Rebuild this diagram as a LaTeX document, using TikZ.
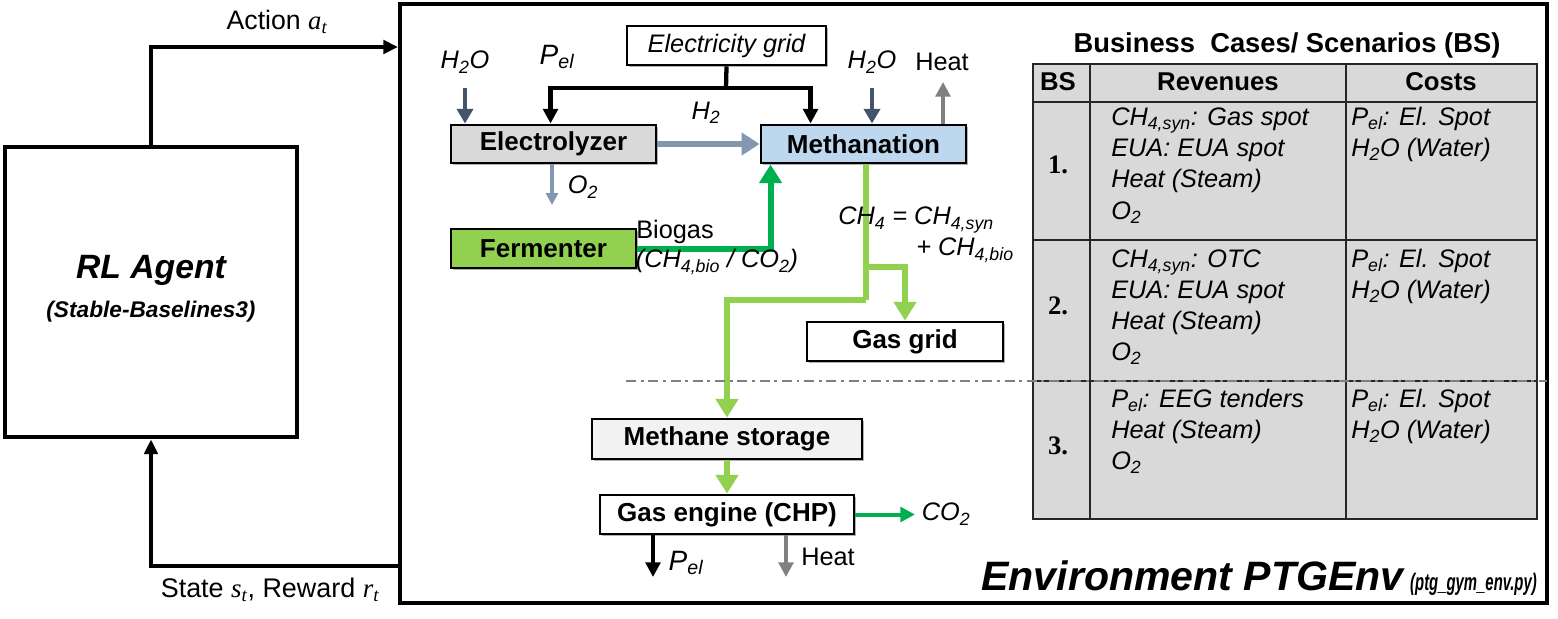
\documentclass[tikz,border=0pt]{standalone}
\usepackage{fontspec}
\setmainfont{Liberation Sans}
\newfontfamily\seriff{Liberation Serif}
\usetikzlibrary{arrows.meta,calc,shadows}
\definecolor{lgreen}{HTML}{92D050}
\definecolor{dgreen}{HTML}{00B050}
\definecolor{gblue}{HTML}{8497B0}
\definecolor{slate}{HTML}{44546A}
\definecolor{hgray}{HTML}{808080}
\definecolor{elfill}{HTML}{D9D9D9}
\definecolor{mefill}{HTML}{BDD7EE}
\definecolor{stfill}{HTML}{F2F2F2}
\newcommand{\fsz}[1]{\fontsize{#1}{#1}\selectfont}
\newcommand{\sbs}[1]{\textsubscript{#1}}
\newcommand{\tvar}[1]{{\seriff\itshape #1}}
\begin{document}
\begin{tikzpicture}[x=0.75pt,y=-0.75pt,
  procbox/.style={draw, fill=white, line width=2.2pt, minimum height=28.5pt, inner sep=0pt,
    font=\bfseries\fsz{19.5},
    drop shadow={shadow xshift=1.5pt, shadow yshift=-1.5pt, opacity=0.3, fill=black}},
  lbl/.style={inner sep=0pt, font=\fsz{19}},
  ilbl/.style={inner sep=0pt, font=\itshape\fsz{19}},
  tbtxt/.style={inner sep=0pt, anchor=base west, font=\itshape\fsz{19}},
  tbhead/.style={inner sep=0pt, font=\bfseries\fsz{19.3}},
  tbnum/.style={inner sep=0pt, font=\seriff\bfseries\fsz{20}},
  ctrl/.style={line width=3.6pt, -{Triangle[length=11pt,width=10pt]}},
  feed/.style={line width=3.2pt, -{Triangle[length=11pt,width=11pt]}},
  feedline/.style={line width=3.2pt},
  water/.style={slate, line width=3.6pt, -{Triangle[length=11pt,width=12pt]}},
  heatarr/.style={hgray, line width=3pt, -{Triangle[length=11pt,width=11pt]}},
  h2arr/.style={gblue, line width=4.5pt, -{Triangle[length=13.5pt,width=16.5pt]}},
  o2arr/.style={gblue, line width=2.4pt, -{Triangle[length=9pt,width=9pt]}},
  bioarr/.style={dgreen, line width=4.5pt, -{Triangle[length=14pt,width=16.5pt]}},
  co2arr/.style={dgreen, line width=3pt, -{Triangle[length=11pt,width=11pt]}},
  ch4line/.style={lgreen, line width=4.5pt},
  ch4arr/.style={lgreen, line width=4.5pt, -{Triangle[length=14pt,width=16.5pt]}},
  outarr/.style={line width=3pt, -{Triangle[length=11pt,width=11pt]}},
  tbl/.style={black!85, line width=1pt},
  dashdot/.style={hgray, line width=2.2pt, dash pattern=on 7.5pt off 3.5pt on 2.2pt off 3.5pt}
]
\useasboundingbox (0,0) rectangle (1558,618);

% ---------- agent and environment ----------
\node[draw, line width=3.6pt, minimum width=219pt, minimum height=217.5pt, inner sep=0pt] (agent) at (151,292) {};
\node[inner sep=0pt, font=\bfseries\itshape\fsz{25.3}] (agt) at (151,270) {RL Agent};
\node[inner sep=0pt, font=\bfseries\itshape\fsz{17}] (agsub) at (151,312) {(Stable-Baselines3)};

\node[draw, line width=3pt, minimum width=860.25pt, minimum height=449.25pt, inner sep=0pt] (env) at (973.5,303.5) {};
\node[inner sep=0pt, anchor=base east] (envlbl) at (1537,590)
  {{\bfseries\itshape\fsz{30.8}Environment PTGEnv}\hspace{5pt}\scalebox{0.62}[1]{\bfseries\itshape\fsz{18}(ptg\_gym\_env.py)}};

\coordinate (actin) at (398,47);
\draw[ctrl] (agent.north) |- (actin);
\node[lbl, font=\fsz{20}] (actlbl) at (277,22) {Action \tvar{a}\sbs{\tvar{t}}};
\coordinate (stout) at (400,566);
\draw[ctrl] (stout) -| (agent.south);
\node[lbl, font=\fsz{20.2}] (stlbl) at (270,590) {State \tvar{s}\sbs{\tvar{t}}, Reward \tvar{r}\sbs{\tvar{t}}};

% ---------- table ----------
\fill[elfill] (1033,64) rectangle (1537,519);
\draw[tbl] (1033,64) rectangle (1537,519);
\draw[tbl] (1033,102) -- (1537,102);
\draw[tbl] (1033,240) -- (1537,240);
\draw[tbl] (1033,381) -- (1537,381);
\draw[tbl] (1090,64) -- (1090,519);
\draw[tbl] (1346,64) -- (1346,519);
\node[inner sep=0pt, font=\bfseries\fsz{20.5}] (ttl) at (1287,45) {Business\ \ Cases/\ Scenarios\ (BS)};
\node[tbhead] (hbs) at (1058,82) {BS};
\node[tbhead] (hrev) at (1218,82) {Revenues};
\node[tbhead] (hcost) at (1441,82) {Costs};
\node[tbnum] (n1) at (1058,165) {1.};
\node[tbnum] (n2) at (1058,306) {2.};
\node[tbnum] (n3) at (1058,446) {3.};
% row 1
\node[tbtxt] (r1a) at (1111,125) {CH\sbs{4,syn}: Gas spot};
\node[tbtxt] (r1b) at (1111,156) {EUA: EUA spot};
\node[tbtxt] (r1c) at (1111,187) {Heat (Steam)};
\node[tbtxt] (r1d) at (1111,219) {O\sbs{2}};
\node[tbtxt] (c1a) at (1351,125) {P\sbs{el}: El. Spot};
\node[tbtxt] (c1b) at (1351,156) {H\sbs{2}O (Water)};
% row 2
\node[tbtxt] (r2a) at (1111,267) {CH\sbs{4,syn}: OTC};
\node[tbtxt] (r2b) at (1111,298) {EUA: EUA spot};
\node[tbtxt] (r2c) at (1111,329) {Heat (Steam)};
\node[tbtxt] (r2d) at (1111,360) {O\sbs{2}};
\node[tbtxt] (c2a) at (1351,267) {P\sbs{el}: El. Spot};
\node[tbtxt] (c2b) at (1351,298) {H\sbs{2}O (Water)};
% row 3
\node[tbtxt] (r3a) at (1111,407) {P\sbs{el}: EEG tenders};
\node[tbtxt] (r3b) at (1111,438) {Heat (Steam)};
\node[tbtxt] (r3c) at (1111,469) {O\sbs{2}};
\node[tbtxt] (c3a) at (1351,407) {P\sbs{el}: El. Spot};
\node[tbtxt] (c3b) at (1351,438) {H\sbs{2}O (Water)};

% ---------- process boxes ----------
\node[procbox, font=\itshape\fsz{19}, minimum width=149.25pt, minimum height=29.25pt] (grid) at (726.5,45.5) {Electricity grid};
\node[procbox, fill=elfill, minimum width=153.75pt] (ely) at (553.5,144) {Electrolyzer};
\node[procbox, fill=mefill, minimum width=153.75pt] (meth) at (863.5,144) {Methanation};
\node[procbox, fill=lgreen, minimum width=138.75pt, minimum height=29.25pt] (ferm) at (543.5,248.5) {Fermenter};
\node[procbox, minimum width=147pt, minimum height=29.25pt] (gasgrid) at (905,341.5) {Gas grid};
\node[procbox, fill=stfill, minimum width=202.5pt, minimum height=30pt] (stor) at (727,439) {Methane storage};
\node[procbox, minimum width=190.5pt, minimum height=29.25pt] (chp) at (727,514.5) {Gas engine (CHP)};

% ---------- flows ----------
\coordinate (gj) at (726,88);
\draw[feedline] (grid.south) -- (gj);
\draw[feed] (gj) -| ($(ely.north west)+(101,0)$);
\draw[feed] (gj) -| ($(meth.north west)+(51,0)$);
\node[ilbl, font=\itshape\fsz{21}] (pel1) at (557,57) {P\sbs{el}};

\coordinate (wL) at (465,88);
\draw[water] (wL) -- (wL |- ely.north);
\node[ilbl] (h2oL) at (465,62) {H\sbs{2}O};
\coordinate (wR) at (872,88);
\draw[water] (wR) -- (wR |- meth.north);
\node[ilbl] (h2oR) at (872,62) {H\sbs{2}O};
\coordinate (hM) at (943,82);
\draw[heatarr] (hM |- meth.north) -- (hM);
\node[lbl] (heatM) at (942,62) {Heat};

\draw[h2arr] (ely) -- (meth);
\node[ilbl] (h2l) at (706,113) {H\sbs{2}};
\coordinate (o2e) at (552,205);
\draw[o2arr] (o2e |- ely.south) -- (o2e);
\node[ilbl] (o2l) at (583,187) {O\sbs{2}};

\draw[bioarr] (ferm.east) -| ($(meth.south west)+(11,0)$);
\node[lbl] (biol) at (675,232) {Biogas};
\node[ilbl] (biol2) at (717,262) {(CH\sbs{4,bio} / CO\sbs{2})};

\coordinate (c1) at (866,300);
\coordinate (c2) at (866,267);
\draw[ch4line] ($(meth.south)+(2.5,0)$) -- (c1);
\draw[ch4arr] (c1) -| (stor.north);
\draw[ch4arr] (c2) -| (gasgrid.north);
\node[ilbl, anchor=west] (ch4a) at (838,220) {CH\sbs{4} = CH\sbs{4,syn}};
\node[ilbl, anchor=west] (ch4b) at (916,250) {+ CH\sbs{4,bio}};

\draw[ch4arr] (stor) -- (chp);
\coordinate (co2e) at (915,514.5);
\draw[co2arr] (chp.east) -- (co2e);
\node[ilbl] (co2l) at (946,514) {CO\sbs{2}};
\coordinate (pe) at (653,577);
\draw[outarr] (pe |- chp.south) -- (pe);
\node[ilbl, font=\itshape\fsz{21}] (pel2) at (686,563) {P\sbs{el}};
\coordinate (he) at (786,577);
\draw[outarr, hgray] (he |- chp.south) -- (he);
\node[lbl] (heatC) at (828,557) {Heat};

\coordinate (dl) at (626,381);
\coordinate (dr) at (1547,381);
\draw[dashdot] (dl) -- (dr);
\end{tikzpicture}
\end{document}
